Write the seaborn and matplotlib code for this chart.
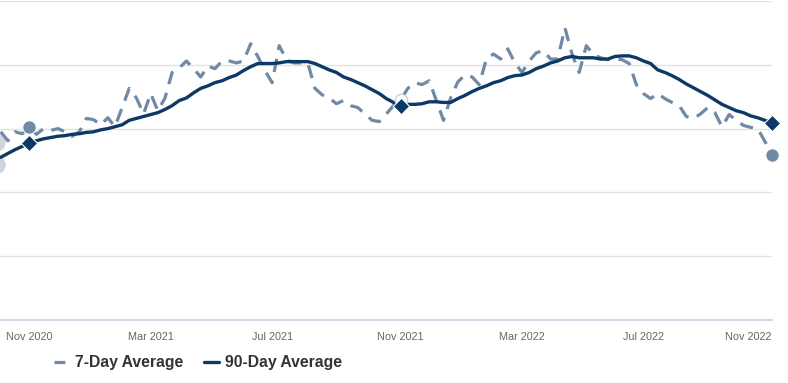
import pandas as pd
import numpy as np
import matplotlib
matplotlib.use("Agg")
import matplotlib.pyplot as plt
from matplotlib.lines import Line2D
import seaborn as sns

# ---------------- data (weekly, Sundays) ----------------
start_date = "2020-10-04"
n_weeks = 109

seven_day = [
    29.5, 28.1, 29.5, 29.2,
    30.2, 29.1, 30.0, 29.7, 30.0, 29.5, 28.8, 29.5, 31.6, 31.4,
    30.6, 31.7, 30.3, 33.3, 36.3, 34.8, 32.3, 35.5, 32.8, 34.8,
    38.8, 39.5, 40.6, 39.4, 38.1, 39.8, 39.4, 40.6, 40.6, 40.3,
    40.6, 43.3, 41.3, 39.1, 37.2, 43.0, 40.8, 40.3, 40.3, 40.3,
    36.3, 35.3, 34.8, 33.9, 34.4, 33.6, 33.3, 32.3, 31.3, 31.1,
    32.3, 33.6, 34.5, 36.3, 37.2, 36.9, 37.5, 34.4, 31.3, 34.8,
    37.3, 38.4, 38.1, 36.9, 40.9, 41.7, 40.9, 42.5, 40.3, 38.8,
    40.6, 41.9, 42.2, 40.9, 40.9, 45.8, 41.7, 38.8, 43.0, 41.6,
    41.1, 40.8, 40.9, 40.8, 40.2, 36.9, 35.5, 34.7, 35.5, 34.7,
    34.1, 33.6, 31.9, 31.6, 32.3, 33.3, 32.5, 30.3, 32.2, 31.3,
    30.5, 30.2, 30.0, 28.0, 25.9,
]

ninety_day = [
    25.5, 26.1, 26.7, 27.2,
    27.7, 28.1, 28.4, 28.6, 28.8, 28.9, 29.1, 29.2, 29.4, 29.5,
    29.8, 30.0, 30.3, 30.6, 31.3, 31.6, 31.9, 32.2, 32.5, 33.0,
    33.6, 34.4, 34.8, 35.6, 36.3, 36.7, 37.2, 37.5, 38.0, 38.4,
    39.1, 39.7, 40.2, 40.2, 40.2, 40.3, 40.5, 40.5, 40.5, 40.5,
    40.2, 39.7, 39.2, 38.8, 38.1, 37.7, 37.2, 36.7, 36.1, 35.5,
    34.7, 34.1, 33.6, 33.8, 33.8, 33.9, 34.2, 34.2, 34.1, 34.1,
    34.7, 35.2, 35.8, 36.3, 36.7, 37.2, 37.5, 38.0, 38.3, 38.4,
    38.8, 39.4, 39.8, 40.3, 40.6, 41.1, 41.3, 41.1, 41.1, 41.1,
    40.9, 40.9, 41.3, 41.4, 41.4, 41.1, 40.6, 40.2, 39.2, 38.8,
    38.3, 37.7, 37.0, 36.4, 35.8, 35.2, 34.5, 33.8, 33.3, 32.8,
    32.5, 32.0, 31.7, 31.3, 30.9,
]

# highlighted anniversary points
highlight_dates = ["2020-11-01", "2021-10-31", "2022-10-30"]
# faded markers just left of the visible window
faded_date = "2020-09-30"
faded_values = [27.8, 24.3]

tick_dates = ["2020-11-01", "2021-02-28", "2021-06-27", "2021-10-31",
              "2022-02-27", "2022-06-26", "2022-10-30"]
tick_labels = ["Nov 2020", "Mar 2021", "Jul 2021", "Nov 2021",
               "Mar 2022", "Jul 2022", "Nov 2022"]

series_names = ["7-Day Average", "90-Day Average"]

# ---------------- styling ----------------
sns.set_style("white")
plt.rcParams["font.family"] = ["Liberation Sans", "DejaVu Sans"]

C7 = "#6f89a7"
C90 = "#0c3966"
FADED = "#cfd5dc"

dates = pd.date_range(start_date, periods=n_weeks, freq="7D")
df = pd.DataFrame({"date": dates, "seven": seven_day, "ninety": ninety_day})

W, H = 788, 383
fig = plt.figure(figsize=(W / 100, H / 100), dpi=100)
ax = fig.add_axes([0, 1 - 320 / H, 772 / W, 319 / H])

sns.lineplot(data=df, x="date", y="seven", ax=ax, color=C7, lw=2.3,
             linestyle=(0, (4.2, 2.8)), zorder=3)
sns.lineplot(data=df, x="date", y="ninety", ax=ax, color=C90, lw=2.4,
             zorder=4, solid_joinstyle="round", solid_capstyle="round")

hl = df[df["date"].isin(pd.to_datetime(highlight_dates))]
hl_open = hl.iloc[1:2]
hl_filled = hl.iloc[[0, 2]]

# faded markers at the left edge
ax.scatter([pd.Timestamp(faded_date)] * 2, faded_values, s=170, color=FADED,
           edgecolor="none", zorder=2, clip_on=True)

sns.scatterplot(data=hl_open, x="date", y="seven", ax=ax, s=80, color="white",
                edgecolor="#c9d2dc", linewidth=1.0, zorder=5, legend=False)
sns.scatterplot(data=hl_filled, x="date", y="seven", ax=ax, s=95, color=C7,
                edgecolor="white", linewidth=0.8, zorder=5, legend=False,
                clip_on=False)
sns.scatterplot(data=hl, x="date", y="ninety", ax=ax, s=70, color=C90,
                marker="D", edgecolor="white", linewidth=0.8, zorder=6,
                legend=False, clip_on=False)

# axes limits
ax.set_xlim(pd.Timestamp("2020-10-03 07:00"), pd.Timestamp("2022-10-30"))
ax.set_ylim(0, 50)
ax.set_yticks([0, 10, 20, 30, 40, 50])
ax.set_yticklabels([])
ax.tick_params(axis="y", length=0)
ax.grid(axis="y", color="#e2e2e2", lw=1.0)
ax.grid(axis="x", visible=False)
ax.set_xlabel("")
ax.set_ylabel("")

for side in ["left", "right", "top"]:
    ax.spines[side].set_visible(False)
ax.spines["bottom"].set_color("#c8d2e0")
ax.spines["bottom"].set_linewidth(1.2)
ax.spines["bottom"].set_zorder(7)

ax.set_xticks(pd.to_datetime(tick_dates))
ax.set_xticklabels(tick_labels)
ax.tick_params(axis="x", length=6.5, width=1.0, color="#c8d2e0",
               labelsize=7.8, labelcolor="#666666", pad=2)
lbls = ax.get_xticklabels()
lbls[-1].set_ha("right")

# legend
handles = [
    Line2D([0], [0], color=C7, lw=2.3, linestyle=(0, (3.4, 10))),
    Line2D([0], [0], color=C90, lw=2.4),
]
leg = fig.legend(handles, series_names, loc="center left",
                 bbox_to_anchor=(54 / W, 1 - 363 / H), frameon=False, ncol=2,
                 handlelength=0.96, handletextpad=0.4, columnspacing=1.3,
                 borderpad=0, borderaxespad=0,
                 prop={"weight": "bold", "size": 11.3})
for t in leg.get_texts():
    t.set_color("#333333")

fig.savefig("out.png", dpi=100, facecolor="white")
